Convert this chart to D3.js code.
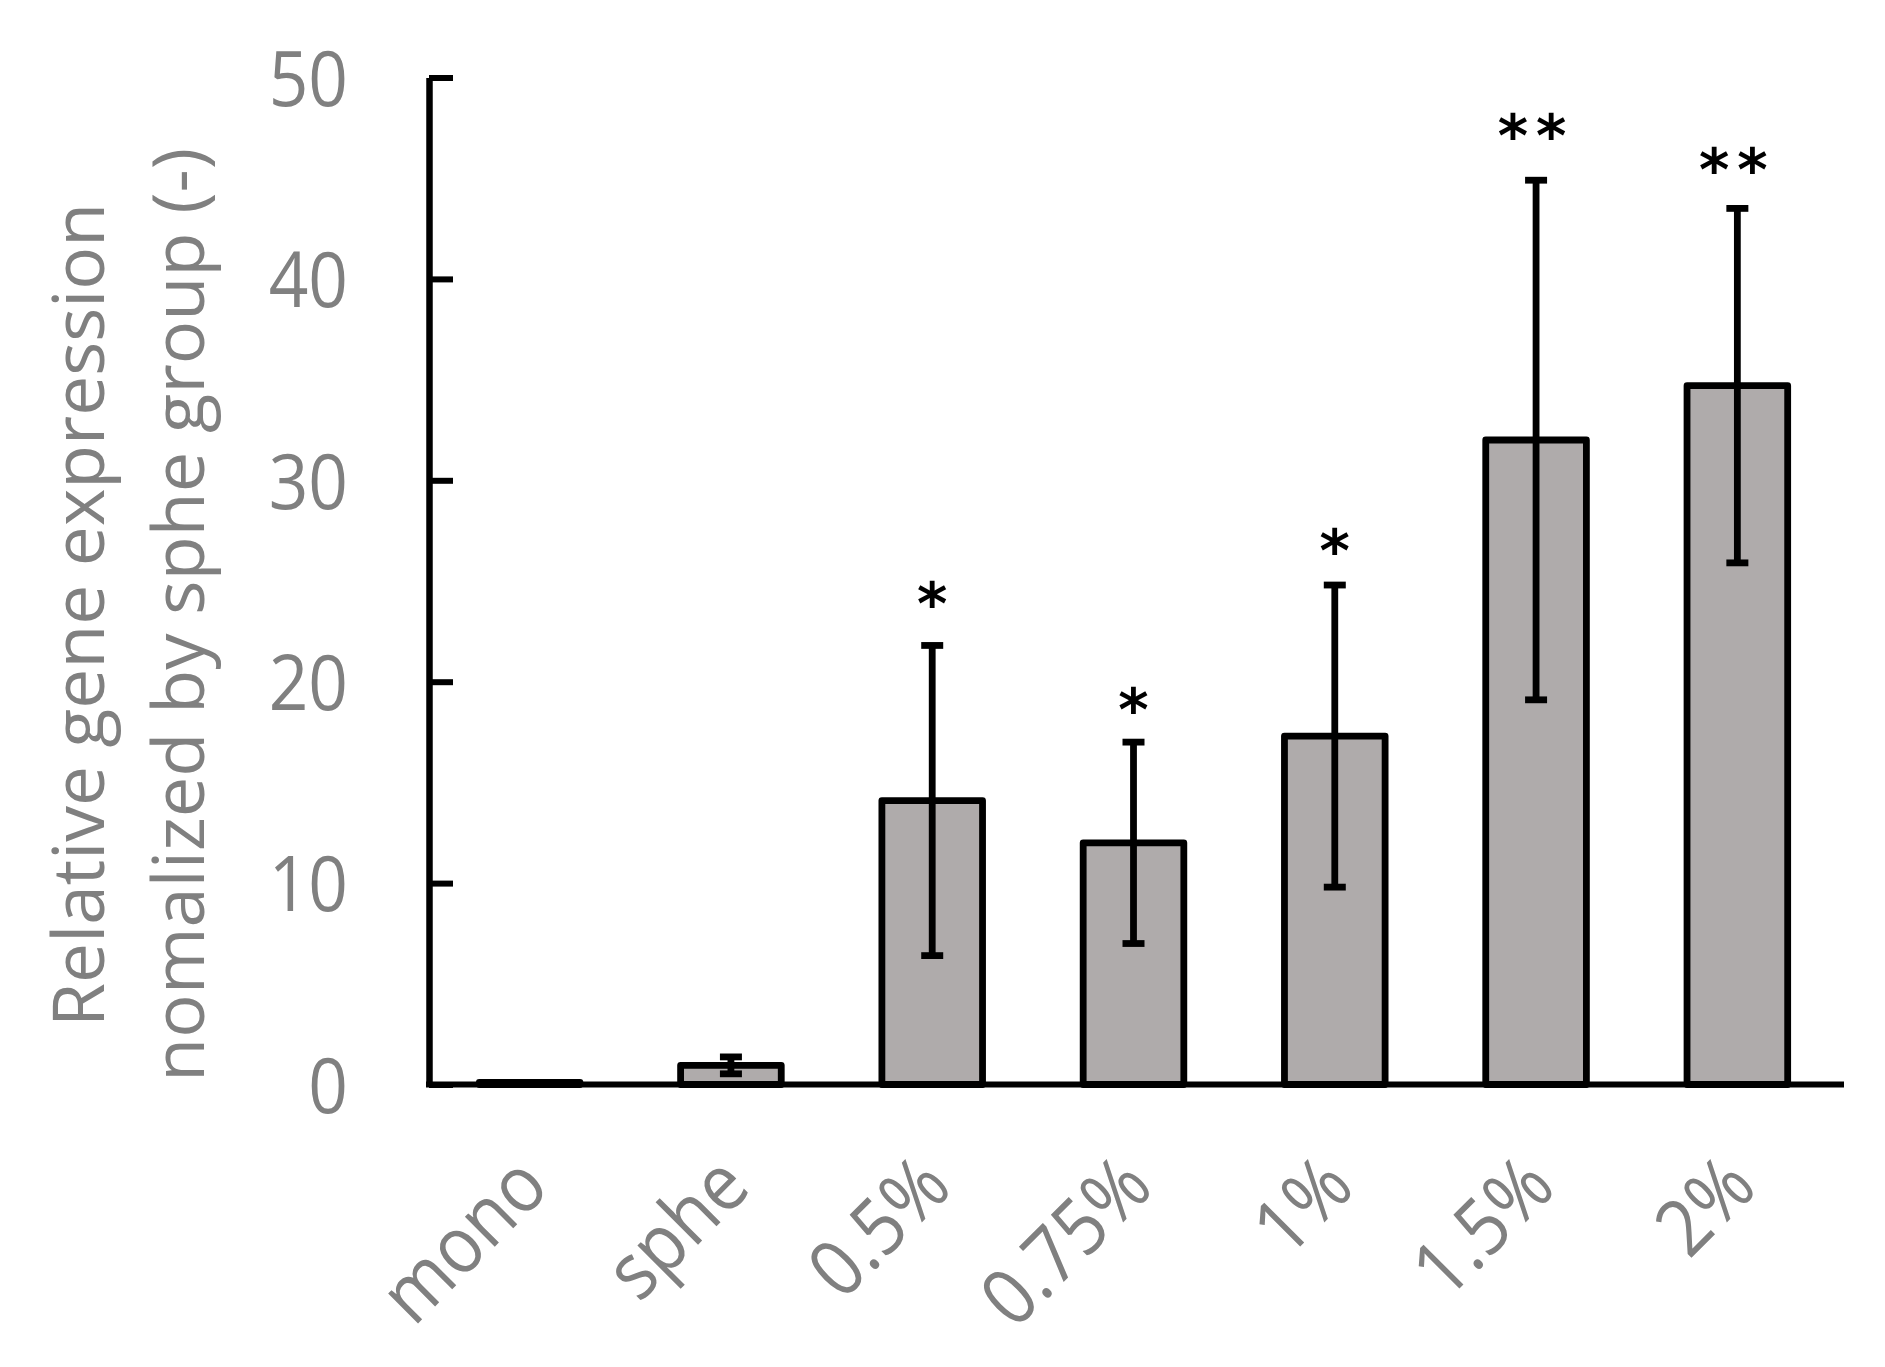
<!DOCTYPE html>
<html><head><meta charset="utf-8">
<script src="https://cdn.jsdelivr.net/npm/d3@7"></script>
<style>body{margin:0;background:#fff}</style>
</head><body>
<svg id="c" width="1885" height="1367"></svg>
<script>
const categories = ["mono","sphe","0.5%","0.75%","1%","1.5%","2%"];
const means = [0.1, 0.95, 14.1, 12.0, 17.3, 32.0, 34.7];
const sds = [0, 0.42, 7.7, 5.0, 7.5, 12.9, 8.8];
const sigLabels = ["","","*","*","*","**","**"];
const sigPos = [null,null,24.35,19.1,27.0,47.6,45.9];
const yTicks = [0,10,20,30,40,50];
const titleLines = ["Relative gene expression","nomalized by sphe group (-)"];

const svg = d3.select("#c");
const gray = "#808080";
const font = "'Open Sans', sans-serif";

const x = d3.scaleBand().domain(categories).range([429, 1838]).paddingInner(0.5).paddingOuter(0.25);
const y = d3.scaleLinear().domain([0, 50]).range([1084.5, 77.5]);

function compress(sel, f){
  sel.each(function(){
    const L = this.getComputedTextLength();
    this.setAttribute("textLength", L * f);
    this.setAttribute("lengthAdjust", "spacingAndGlyphs");
  });
}

const data = categories.map((c,i)=>({c, m:means[i], s:sds[i], sig:sigLabels[i], sp:sigPos[i]}));

// x baseline
svg.append("line").attr("x1", 426).attr("x2", 1844).attr("y1", y(0)).attr("y2", y(0))
  .attr("stroke","#000").attr("stroke-width",6);

// bars
svg.append("g").selectAll("rect").data(data).join("rect")
  .attr("x", d=>x(d.c)).attr("width", x.bandwidth())
  .attr("y", d=>y(d.m)).attr("height", d=>y(0)-y(d.m))
  .attr("fill","#afabab").attr("stroke","#000").attr("stroke-width",6.8)
  .attr("stroke-linejoin","round");

// error bars
const eg = svg.append("g").attr("stroke","#000").attr("stroke-width",6.8);
data.filter(d=>d.s>0).forEach(d=>{
  const cx = x(d.c) + x.bandwidth()/2;
  eg.append("line").attr("x1",cx).attr("x2",cx).attr("y1",y(d.m+d.s)).attr("y2",y(d.m-d.s));
  eg.append("line").attr("x1",cx-11).attr("x2",cx+11).attr("y1",y(d.m+d.s)).attr("y2",y(d.m+d.s));
  eg.append("line").attr("x1",cx-11).attr("x2",cx+11).attr("y1",y(d.m-d.s)).attr("y2",y(d.m-d.s));
});

// y axis
const ya = svg.append("g").attr("transform","translate(429,0)")
  .call(d3.axisLeft(y).tickValues(yTicks).tickSizeInner(-24).tickSizeOuter(0).tickPadding(81));
ya.select(".domain").attr("stroke","#000").attr("stroke-width",6.5);
ya.selectAll(".tick line").attr("stroke","#000").attr("stroke-width",6);
ya.selectAll(".tick text").attr("fill",gray).style("font-family",font).style("font-size","77px").attr("dy","0.36em");
compress(ya.selectAll(".tick text"), 0.9);

// x labels
const xl = svg.append("g").selectAll("text").data(categories).join("text")
  .attr("transform", d=>`translate(${x(d)+x.bandwidth()/2+22},1190) rotate(-45)`)
  .attr("text-anchor","end").attr("fill",gray)
  .style("font-family",font).style("font-size","79px")
  .text(d=>d);
compress(xl, 0.9);

// y title
const tl = [[104, 824],[204, 934]];
titleLines.forEach((t,i)=>{
  svg.append("text").attr("transform",`translate(${tl[i][0]},615) rotate(-90)`)
    .attr("text-anchor","middle").attr("fill",gray)
    .style("font-family",font).style("font-size","72px")
    .attr("textLength", tl[i][1]).attr("lengthAdjust","spacingAndGlyphs")
    .text(t);
});

// significance marks
data.filter(d=>d.sig).forEach(d=>{
  const cx = x(d.c) + x.bandwidth()/2;
  const t = svg.append("text").attr("x",cx).attr("y",0).attr("text-anchor","middle")
    .attr("fill","#000").style("font-family","'DejaVu Sans', sans-serif").style("font-size","58px")
    .style("font-weight","bold")
    .style("letter-spacing", d.sig.length>1 ? "8px":"0px")
    .text(d.sig);
  const b = t.node().getBBox();
  const dx = cx - (b.x + b.width/2);
  const dy = y(d.sp) - (b.y + b.height/2) + 10;
  t.attr("x", cx+dx).attr("y", dy);
});
</script>
</body></html>
